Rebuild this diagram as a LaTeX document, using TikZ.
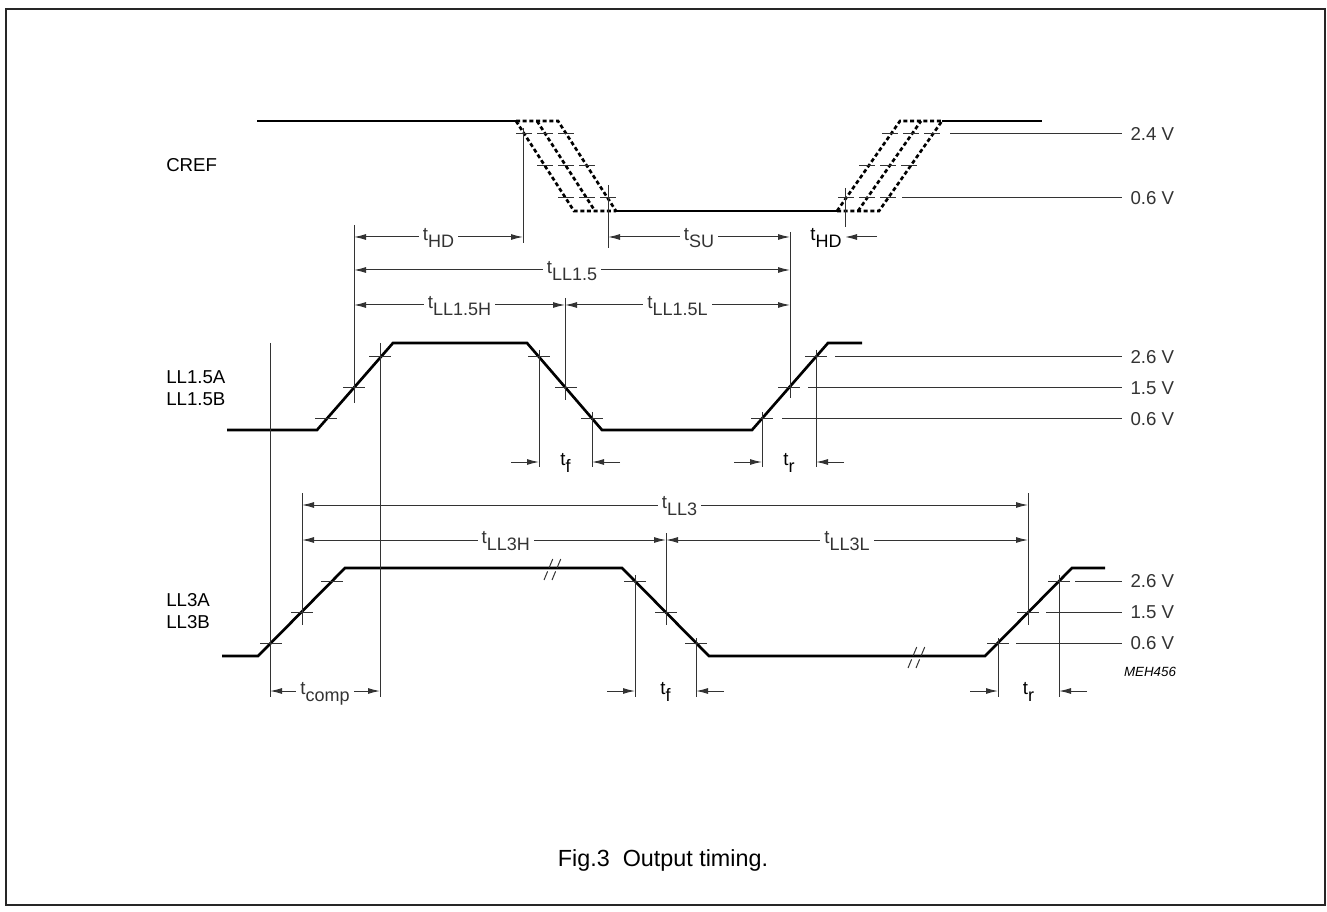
\documentclass[tikz,border=0pt]{standalone}
\usepackage{fontspec}
\setmainfont{Liberation Sans}
\usetikzlibrary{arrows.meta}

\newcommand\tsub[1]{t\raisebox{-5.5pt}{\fontsize{13.5}{14}\selectfont#1}}

\begin{document}
\begin{tikzpicture}[x=0.75pt,y=-0.75pt,
  font=\fontsize{14}{16.5}\selectfont,
  >={Latex[length=9pt,width=4.5pt]},
  wave/.style={line width=2pt},
  wavedash/.style={line width=2pt,dash pattern=on 3pt off 2pt},
  aux/.style={line width=0.75pt,black!80},
  dim/.style={aux,<->},
  lab/.style={fill=white,inner xsep=3pt,inner ysep=1pt,anchor=mid}]

\useasboundingbox (0,0) rectangle (1327,912);
\draw[line width=1.5pt,black!85] (6,9) rectangle (1325,905);

% signal names
\node[anchor=west,inner sep=0] (cref) at (166,165) {CREF};
\node[anchor=west,inner sep=0,align=left] (ll15) at (166,388) {LL1.5A\\LL1.5B};
\node[anchor=west,inner sep=0,align=left] (ll3) at (166,611) {LL3A\\LL3B};

% voltage levels
\foreach \y/\x/\v in {134/950/2.4, 198/902/0.6, 357/835/2.6, 388/808/1.5,
  419/782/0.6, 581/1075/2.6, 612/1046/1.5, 643/1016/0.6}
  { \draw[aux] (\x,\y) -- (1122,\y) node[right,inner sep=0,xshift=6pt] (v\y) {\v\ V}; }

% CREF
\draw[wave] (257,121) -- (516,121);
\draw[wavedash] (516,121) -- (558,121) -- (616,211);
\draw[wavedash] (516,121) -- (574,211) -- (616,211);
\draw[wavedash] (537,121) -- (595,211);
\draw[wave] (616,211) -- (837,211);
\draw[wavedash] (837,211) -- (879,211) -- (942,121);
\draw[wavedash] (837,211) -- (900,121) -- (942,121);
\draw[wavedash] (858,211) -- (921,121);
\draw[wave] (942,121) -- (1042,121);
\foreach \x/\y in {524/134, 545/166, 566/198, 545/134, 566/166, 587/198,
  566/134, 587/166, 608/198, 846/198, 867/166, 890/134, 867/198, 888/166,
  911/134, 888/198, 909/166, 932/134}
  { \draw[aux] ({\x-8},\y) -- ({\x+8},\y); }

% LL1.5 and LL3
\draw[wave] (227,430) -- (317,430) -- (393,343) -- (527,343) -- (602,430)
  -- (752,430) -- (828,343) -- (862,343);
\draw[wave] (222,656) -- (258,656) -- (345,568) -- (622,568) -- (709,656)
  -- (985,656) -- (1072,568) -- (1105,568);
\foreach \x/\y in {549/568, 557/568, 913/656, 921/656}
  { \draw[aux,dash pattern=on 7pt off 3pt] ({\x-5},{\y+12}) -- ({\x+5},{\y-12}); }
\foreach \x/\y in {326/419, 354/388, 380/357, 539/357, 566/388, 592/419,
  762/419, 789/388, 816/357, 271/643, 302/612, 332/581, 635/581, 666/612,
  696/643, 998/643, 1028/612, 1059/581}
  { \draw[aux] ({\x-11},\y) -- ({\x+11},\y); }

% timing marks
\foreach \x/\a/\b in {523/128/243, 608/185/248, 845/188/243, 354/225/403,
  790/232/398, 565/298/400, 539/350/467, 592/412/467, 762/412/467,
  816/350/467, 270/343/697, 380/343/697, 302/493/625, 1028/493/625,
  666/533/625, 635/575/697, 696/638/697, 998/638/697, 1059/575/697}
  { \draw[aux] (\x,\a) -- (\x,\b); }

% dimensions
\coordinate (hda) at (354,237);  \coordinate (hdb) at (523,237);
\coordinate (sua) at (608,237);  \coordinate (sub) at (790,237);
\coordinate (hdc) at (877,237);  \coordinate (hdd) at (845,237);
\coordinate (l15a) at (354,270); \coordinate (l15b) at (790,270);
\coordinate (l15c) at (354,305); \coordinate (l15d) at (565,305);
\coordinate (l15e) at (790,305);
\coordinate (l3a) at (302,505);  \coordinate (l3b) at (1028,505);
\coordinate (l3c) at (302,540);  \coordinate (l3d) at (666,540);
\coordinate (l3e) at (1028,540);
\coordinate (cpa) at (270,691);  \coordinate (cpb) at (380,691);

\draw[dim] (hda) -- node[lab] (thd) {\tsub{HD}} (hdb);
\draw[dim] (sua) -- node[lab] (tsu) {\tsub{SU}} (sub);
\draw[aux,->] (hdc) -- (hdd);
\node[lab] (thd2) at (826,237) {\tsub{HD}};
\draw[dim] (l15a) -- node[lab] (tll15) {\tsub{LL1.5}} (l15b);
\draw[dim] (l15c) -- node[lab] (tll15h) {\tsub{LL1.5H}} (l15d);
\draw[dim] (l15d) -- node[lab] (tll15l) {\tsub{LL1.5L}} (l15e);
\draw[dim] (l3a) -- node[lab,pos=0.52] (tll3) {\tsub{LL3}} (l3b);
\draw[dim] (l3c) -- node[lab,pos=0.56] (tll3h) {\tsub{LL3H}} (l3d);
\draw[dim] (l3d) -- node[lab] (tll3l) {\tsub{LL3L}} (l3e);
\draw[dim] (cpa) -- node[lab] (tcomp) {\tsub{comp}} (cpb);

\foreach \n/\xa/\xb/\y/\s in {tfa/539/592/462/f, tra/762/816/462/r,
  tfb/635/696/691/f, trb/998/1059/691/r}
  { \coordinate (\n a) at ({\xa-28},\y); \coordinate (\n b) at (\xa,\y);
    \coordinate (\n c) at ({\xb+28},\y); \coordinate (\n d) at (\xb,\y);
    \draw[aux,->] (\n a) -- (\n b);
    \draw[aux,->] (\n c) -- (\n d);
    \node[lab] (\n) at ({(\xa+\xb)/2},\y) {\tsub{\s}}; }

\node (code) at (1150,672) {\fontsize{10}{12}\selectfont\itshape MEH456};
\node (cap) at (663,860) {\fontsize{17.5}{20}\selectfont Fig.3\ \ Output timing.};
\end{tikzpicture}
\end{document}
